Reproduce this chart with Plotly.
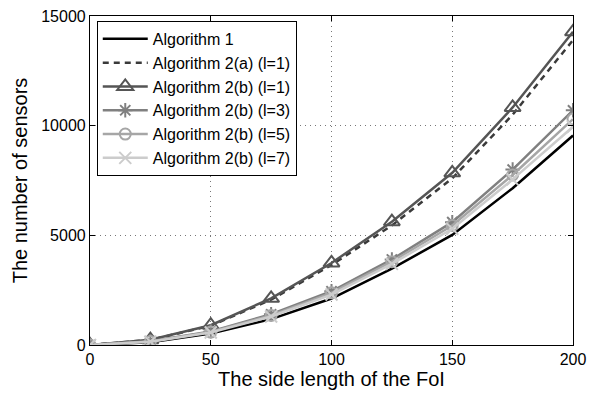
import plotly.graph_objects as go

side_length = [0, 25, 50, 75, 100, 125, 150, 175, 200]
alg1 = [0, 130, 520, 1180, 2120, 3480, 5020, 7150, 9550]
alg2a_l1 = [0, 230, 880, 2070, 3650, 5450, 7600, 10500, 13900]
alg2b_l1 = [0, 240, 900, 2130, 3740, 5620, 7850, 10830, 14280]
alg2b_l3 = [0, 170, 620, 1400, 2450, 3900, 5600, 8000, 10700]
alg2b_l5 = [0, 160, 590, 1350, 2380, 3800, 5450, 7750, 10300]
alg2b_l7 = [0, 150, 570, 1300, 2300, 3700, 5300, 7550, 9950]
names = ["Algorithm 1", "Algorithm 2(a) (l=1)", "Algorithm 2(b) (l=1)",
         "Algorithm 2(b) (l=3)", "Algorithm 2(b) (l=5)", "Algorithm 2(b) (l=7)"]
x_ticks = [0, 50, 100, 150, 200]
y_ticks = [0, 5000, 10000, 15000]

FONT = "Liberation Sans, Arial, Helvetica"

fig = go.Figure()
fig.add_trace(go.Scatter(x=side_length, y=alg1, name=names[0], mode="lines",
                         line=dict(color="black", width=2.5)))
fig.add_trace(go.Scatter(x=side_length, y=alg2a_l1, name=names[1], mode="lines",
                         line=dict(color="#3a3a3a", width=2.5, dash="6px,5px")))
fig.add_trace(go.Scatter(x=side_length, y=alg2b_l1, name=names[2], mode="lines+markers",
                         line=dict(color="#555555", width=2.5),
                         marker=dict(symbol="triangle-up-open", size=14, color="#555555",
                                     line=dict(width=2, color="#555555"))))
fig.add_trace(go.Scatter(x=side_length, y=alg2b_l3, name=names[3], mode="lines+markers",
                         line=dict(color="#808080", width=2.5),
                         marker=dict(symbol="asterisk-open", size=12, color="#808080",
                                     line=dict(width=2, color="#808080"))))
fig.add_trace(go.Scatter(x=side_length, y=alg2b_l5, name=names[4], mode="lines+markers",
                         line=dict(color="#a6a6a6", width=2.5),
                         marker=dict(symbol="circle-open", size=11, color="#a6a6a6",
                                     line=dict(width=2, color="#a6a6a6"))))
fig.add_trace(go.Scatter(x=side_length, y=alg2b_l7, name=names[5], mode="lines+markers",
                         line=dict(color="#cccccc", width=2.5),
                         marker=dict(symbol="x-thin-open", size=12, color="#cccccc",
                                     line=dict(width=2, color="#cccccc"))))

axis_common = dict(showline=True, linecolor="black", linewidth=1.2, mirror="ticks",
                   ticks="inside", ticklen=5, tickcolor="black",
                   showgrid=True, gridcolor="#777777", griddash="1px,4px", gridwidth=1,
                   zeroline=False, ticklabeloverflow="allow",
                   tickfont=dict(size=16, color="black", family=FONT))
fig.update_xaxes(range=[0, 200], tickvals=x_ticks, ticktext=[str(v) for v in x_ticks],
                 automargin="bottom",
                 title=dict(text="The side length of the FoI", standoff=0,
                            font=dict(size=20, color="black", family=FONT)),
                 **axis_common)
fig.update_yaxes(range=[0, 15000], tickvals=y_ticks, ticktext=[str(v) for v in y_ticks],
                 automargin="left",
                 title=dict(text="The number of sensors", standoff=8,
                            font=dict(size=20, color="black", family=FONT)),
                 **axis_common)
fig.update_layout(
    width=602, height=396,
    margin=dict(l=82, r=37, t=8, b=59),
    plot_bgcolor="white", paper_bgcolor="white",
    font=dict(family=FONT, color="black"),
    showlegend=True,
    legend=dict(x=0.014, y=0.985, xanchor="left", yanchor="top",
                bgcolor="white", bordercolor="black", borderwidth=1,
                font=dict(size=16, color="black", family=FONT), tracegroupgap=0,
                itemwidth=45),
)
fig.write_html("out.html")
